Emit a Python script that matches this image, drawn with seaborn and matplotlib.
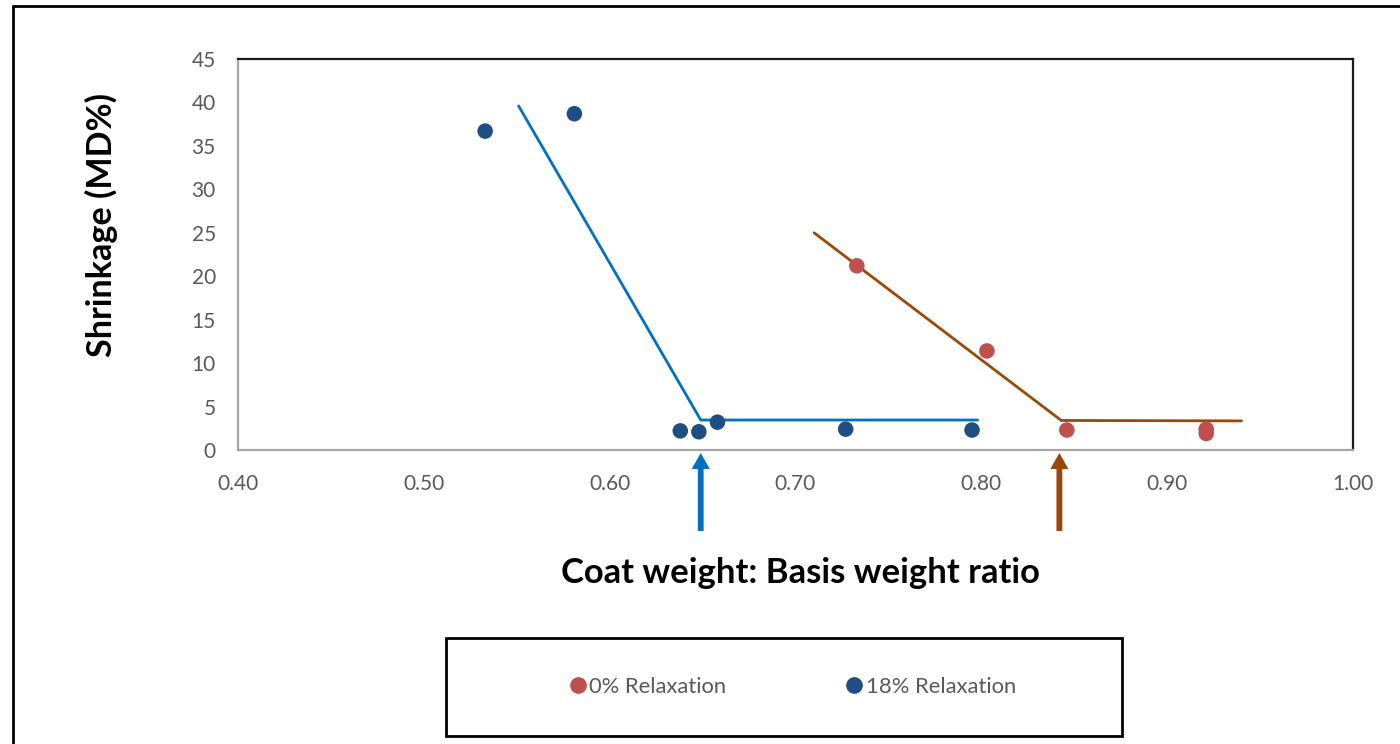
import numpy as np
import pandas as pd
import matplotlib
matplotlib.use("Agg")
import matplotlib.pyplot as plt
import matplotlib.transforms as mtransforms
from matplotlib.lines import Line2D
from matplotlib.patches import Rectangle
import seaborn as sns

# ---- data ----
series_names = ["0% Relaxation", "18% Relaxation"]
x_0pct = [0.733, 0.803, 0.846, 0.921, 0.921]
y_0pct = [21.2, 11.4, 2.3, 2.4, 1.9]
x_18pct = [0.533, 0.581, 0.638, 0.648, 0.658, 0.727, 0.795]
y_18pct = [36.7, 38.7, 2.2, 2.1, 3.2, 2.4, 2.3]

trend_0pct_x = [0.710, 0.843, 0.940]
trend_0pct_y = [25.0, 3.4, 3.35]
trend_18pct_x = [0.551, 0.649, 0.798]
trend_18pct_y = [39.6, 3.45, 3.45]

arrow_x = [0.649, 0.842]

x_ticks = [0.40, 0.50, 0.60, 0.70, 0.80, 0.90, 1.00]
y_ticks = [0, 5, 10, 15, 20, 25, 30, 35, 40, 45]

# ---- style ----
RED = "#C0504D"
NAVY = "#1F4E82"
LBLUE = "#0070C0"
BROWN = "#984807"
GRAY_TXT = "#595959"

sns.set_theme(style="white")
plt.rcParams["font.family"] = ["Lato", "DejaVu Sans"]

W, H = 1400, 744
fig = plt.figure(figsize=(W / 100, H / 100), dpi=100)
L, R, T, B = 238, 1353, 59, 450
ax = fig.add_axes([L / W, 1 - B / H, (R - L) / W, (B - T) / H])

df = pd.DataFrame({
    "x": x_0pct + x_18pct,
    "y": y_0pct + y_18pct,
    "series": [series_names[0]] * len(x_0pct) + [series_names[1]] * len(x_18pct),
})

sns.lineplot(x=trend_18pct_x, y=trend_18pct_y, ax=ax, color=LBLUE, lw=2,
             sort=False, estimator=None, legend=False)
sns.lineplot(x=trend_0pct_x, y=trend_0pct_y, ax=ax, color=BROWN, lw=2,
             sort=False, estimator=None, legend=False)
sns.scatterplot(data=df, x="x", y="y", hue="series", hue_order=series_names,
                palette=[RED, NAVY], s=125, edgecolor="none", ax=ax, legend=False,
                zorder=3)

ax.set_xlim(0.40, 1.00)
ax.set_ylim(0, 45)
ax.set_xticks(x_ticks)
ax.set_xticklabels([f"{v:.2f}" for v in x_ticks])
ax.set_yticks(y_ticks)
ax.set_yticklabels([str(v) for v in y_ticks])
ax.tick_params(axis="both", length=0, labelsize=15, labelcolor=GRAY_TXT)
ax.tick_params(axis="x", pad=17)
ax.tick_params(axis="y", pad=16)
ax.set_xlabel("")
ax.set_ylabel("")

for side in ["left", "bottom"]:
    ax.spines[side].set_color("#A6A6A6")
    ax.spines[side].set_linewidth(1.6)
for side in ["top", "right"]:
    ax.spines[side].set_color("#1A1A1A")
    ax.spines[side].set_linewidth(1.6)

# arrows below the axis
trans = mtransforms.blended_transform_factory(ax.transData, ax.transAxes)
tip = (B - 453) / (B - T)
base = (B - 531) / (B - T)
for xa, col in zip(arrow_x, [LBLUE, BROWN]):
    ax.annotate("", xy=(xa, tip), xycoords=trans, xytext=(xa, base), textcoords=trans,
                arrowprops=dict(arrowstyle="simple,head_length=1.15,head_width=1.3,tail_width=0.42",
                                mutation_scale=10, color=col, shrinkA=0, shrinkB=0, lw=0),
                annotation_clip=False)

# axis titles
fig.text(800 / W, 1 - 573 / H, "Coat weight: Basis weight ratio", ha="center", va="center",
         fontsize=24.9, fontweight="bold", color="black")
fig.text(101 / W, 1 - 225 / H, "Shrinkage (MD%)", ha="center", va="center", rotation=90,
         fontsize=24.6, fontweight="bold", color="black")

# legend box + legend
fig.add_artist(Rectangle((446 / W, 1 - 736 / H), (1122 - 446) / W, (736 - 638) / H,
                         transform=fig.transFigure, fill=False, edgecolor="black", lw=2))
handles = [Line2D([], [], marker="o", ls="none", color=c, markersize=11) for c in [RED, NAVY]]
leg = fig.legend(handles, series_names, loc="center", bbox_to_anchor=(794 / W, 1 - 687 / H),
                 ncol=2, frameon=False, fontsize=15.8, handlelength=0.55, handletextpad=0.25,
                 columnspacing=5.55, labelcolor=GRAY_TXT)

# outer chart border
fig.add_artist(Line2D([13 / W, 13 / W], [0, 1 - 6 / H], transform=fig.transFigure,
                      color="black", lw=2))
fig.add_artist(Line2D([13 / W, 1], [1 - 6 / H, 1 - 6 / H], transform=fig.transFigure,
                      color="black", lw=2))

fig.savefig("out.png", dpi=100)
